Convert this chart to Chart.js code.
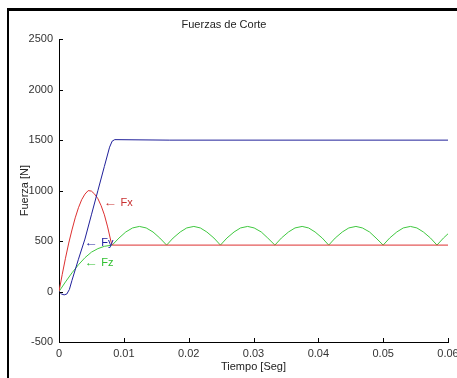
<!DOCTYPE html>
<html>
<head>
<meta charset="utf-8">
<script src="https://cdn.jsdelivr.net/npm/chart.js@4"></script>
<style>
  html, body { margin: 0; padding: 0; background: #fff; overflow: hidden; }
  #wrap { position: relative; width: 457px; height: 378px; }
  #frame { position: absolute; left: 7px; top: 8px; right: 0; bottom: 0;
           border-left: 2px solid #000; border-top: 3px solid #000; pointer-events: none; }
</style>
</head>
<body>
<div id="wrap">
  <canvas id="c" width="457" height="378"></canvas>
  <div id="frame"></div>
</div>
<script>
// ---- data ----
const fxTime = [0, 0.0005, 0.001, 0.0015, 0.002, 0.0025, 0.003, 0.0035, 0.004, 0.0045, 0.005, 0.0055, 0.006, 0.0065, 0.007, 0.0075, 0.008, 0.0082, 0.06];
const fxValues = [0, 170, 330, 480, 610, 730, 830, 910, 965, 1000, 995, 965, 920, 850, 760, 640, 500, 460, 460];

const fyTime = [0, 0.0004, 0.0008, 0.0012, 0.0016, 0.002, 0.003, 0.004, 0.005, 0.006, 0.007, 0.0078, 0.0082, 0.0086, 0.017, 0.06];
const fyValues = [0, -25, -33, -25, 20, 110, 320, 520, 760, 1000, 1240, 1430, 1490, 1505, 1500, 1500];

const fzTime = [0, 0.001, 0.002, 0.003, 0.004, 0.005, 0.006, 0.007, 0.0082,
  0.00925, 0.0103, 0.01135, 0.0124, 0.01345, 0.0145, 0.01555, 0.0166,
  0.0176, 0.0187, 0.0197, 0.0208, 0.0218, 0.0228, 0.0239, 0.0249,
  0.0259, 0.0270, 0.0280, 0.0291, 0.0301, 0.0312, 0.0322, 0.0333,
  0.0343, 0.0354, 0.0364, 0.0375, 0.0385, 0.0395, 0.0406, 0.0416,
  0.0426, 0.0437, 0.0447, 0.0458, 0.0468, 0.0479, 0.0489, 0.0500,
  0.0510, 0.0521, 0.0531, 0.0542, 0.0552, 0.0562, 0.0573, 0.0583,
  0.0593, 0.0600];
const fzValues = [0, 95, 185, 265, 335, 390, 425, 448, 460,
  530, 590, 630, 645, 630, 590, 530, 460,
  530, 590, 630, 645, 630, 590, 530, 460,
  530, 590, 630, 645, 630, 590, 530, 460,
  530, 590, 630, 645, 630, 590, 530, 460,
  530, 590, 630, 645, 630, 590, 530, 460,
  530, 590, 630, 645, 630, 590, 530, 460,
  530, 572];

const xTickLabels = ['0', '0.01', '0.02', '0.03', '0.04', '0.05', '0.06'];
const yTickLabels = ['-500', '0', '500', '1000', '1500', '2000', '2500'];

// text annotations placed at data coordinates (like MATLAB text())
const annotTexts = ['\u2190 Fx', '\u2190 Fy', '\u2190 Fz'];
const annotX = [0.00685, 0.0039, 0.0039];
const annotY = [881, 485, 284];
const annotColors = ['#c83030', '#2020a0', '#30c030'];

const FONT = "'Liberation Sans', Arial, sans-serif";

function pts(ts, vs) { return ts.map((t, i) => ({ x: t, y: vs[i] })); }

const tickMarks = {
  id: 'tickMarks',
  afterDraw(chart) {
    const ctx = chart.ctx, xs = chart.scales.x, ys = chart.scales.y, a = chart.chartArea;
    ctx.save();
    ctx.strokeStyle = '#000';
    ctx.lineWidth = 1;
    ctx.beginPath();
    xs.ticks.forEach(t => {
      const px = Math.round(xs.getPixelForValue(t.value)) + 0.5;
      ctx.moveTo(px, a.bottom); ctx.lineTo(px, a.bottom - 4);
    });
    ys.ticks.forEach(t => {
      const py = Math.round(ys.getPixelForValue(t.value)) + 0.5;
      ctx.moveTo(a.left, py); ctx.lineTo(a.left + 4, py);
    });
    ctx.stroke();
    ctx.restore();
  }
};

const annotations = {
  id: 'annotations',
  afterDatasetsDraw(chart) {
    const ctx = chart.ctx, xs = chart.scales.x, ys = chart.scales.y;
    ctx.save();
    ctx.font = '11px ' + FONT;
    ctx.textAlign = 'left';
    ctx.textBaseline = 'middle';
    annotTexts.forEach((txt, i) => {
      const px = xs.getPixelForValue(annotX[i]);
      const py = ys.getPixelForValue(annotY[i]);
      const arrow = txt.charAt(0);
      const rest = txt.slice(1);
      const w = ctx.measureText(arrow).width;
      ctx.fillStyle = annotColors[i];
      ctx.save();
      ctx.translate(px, py);
      ctx.scale(14 / w, 1);
      ctx.fillText(arrow, 0, 0);
      ctx.restore();
      ctx.fillText(rest, px + 14, py);
    });
    ctx.restore();
  }
};

new Chart(document.getElementById('c'), {
  type: 'line',
  data: {
    datasets: [
      { label: 'Fy', data: pts(fyTime, fyValues), borderColor: '#20209a', borderWidth: 1, pointRadius: 0, tension: 0, order: 0 },
      { label: 'Fx', data: pts(fxTime, fxValues), borderColor: '#dd3030', borderWidth: 1, pointRadius: 0, tension: 0, order: 1 },
      { label: 'Fz', data: pts(fzTime, fzValues), borderColor: '#40c840', borderWidth: 1, pointRadius: 0, tension: 0, order: 2 }
    ]
  },
  options: {
    responsive: false,
    animation: false,
    devicePixelRatio: 1,
    layout: { padding: { left: 0, right: 9, top: 0, bottom: 0 } },
    plugins: {
      legend: { display: false },
      tooltip: { enabled: false },
      title: {
        display: true, text: 'Fuerzas de Corte', color: '#222',
        font: { family: FONT, size: 11, weight: 'normal' },
        padding: { top: 18, bottom: 8 }
      }
    },
    scales: {
      x: {
        type: 'linear', min: 0, max: 0.06,
        grid: { display: false, drawTicks: false },
        border: { display: true, color: '#000', width: 1 },
        ticks: {
          stepSize: 0.01, autoSkip: false, maxRotation: 0, padding: 5,
          color: '#333', font: { family: FONT, size: 11 },
          callback: (v, i) => xTickLabels[i]
        },
        title: { display: true, text: 'Tiempo [Seg]', color: '#222', font: { family: FONT, size: 11 }, padding: { top: 0, bottom: 4 } },
        afterFit(s) { s.height = 36; s.paddingLeft = 0; s.paddingRight = 0; }
      },
      y: {
        min: -500, max: 2500,
        grid: { display: false, drawTicks: false },
        border: { display: true, color: '#000', width: 1 },
        ticks: {
          stepSize: 500, padding: 6, color: '#333', font: { family: FONT, size: 11 },
          callback: (v, i) => yTickLabels[i]
        },
        title: { display: true, text: 'Fuerza [N]', color: '#222', font: { family: FONT, size: 11 }, padding: { top: 18, bottom: 0 } },
        afterFit(s) { s.width = 59; s.paddingTop = 0; s.paddingBottom = 0; }
      }
    }
  },
  plugins: [tickMarks, annotations]
});
</script>
</body>
</html>
